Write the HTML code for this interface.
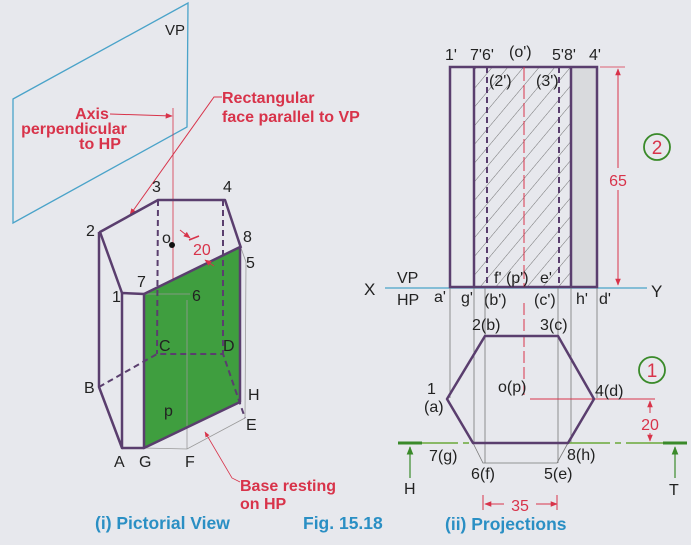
<!DOCTYPE html>
<html><head><meta charset="utf-8"><style>
html,body{margin:0;padding:0;background:#e7e8ed;}
svg{display:block;font-family:"Liberation Sans",sans-serif;}
</style></head><body>
<svg width="691" height="545" viewBox="0 0 691 545" xmlns="http://www.w3.org/2000/svg">
<defs>
<marker id="ar" viewBox="0 0 10 10" refX="9" refY="5" markerWidth="7" markerHeight="7" orient="auto-start-reverse"><path d="M0,1 L10,5 L0,9 z" fill="#d8334a"/></marker>
<marker id="ag" viewBox="0 0 10 10" refX="9" refY="5" markerWidth="7" markerHeight="7" orient="auto-start-reverse"><path d="M0,1 L10,5 L0,9 z" fill="#3a8a2a"/></marker>
<pattern id="hat" width="12" height="12" patternUnits="userSpaceOnUse" patternTransform="rotate(40)"><line x1="0" y1="0" x2="0" y2="12" stroke="#555" stroke-width="0.8"/></pattern>
</defs>
<rect width="691" height="545" fill="#e7e8ed"/>

<!-- VP plane -->
<polygon points="13,99 188,3 187,127 13,223" fill="none" stroke="#4aa3c9" stroke-width="1.3"/>
<text x="165" y="35" font-size="15" fill="#222">VP</text>
<g fill="#d8334a" font-weight="bold" font-size="16" text-anchor="middle">
<text x="92" y="119">Axis</text>
<text x="74" y="134">perpendicular</text>
<text x="100" y="149">to HP</text>
</g>
<line x1="110" y1="114" x2="172" y2="116" stroke="#d8334a" stroke-width="1" marker-end="url(#ar)"/>
<line x1="173" y1="108" x2="173" y2="290" stroke="#d8334a" stroke-width="0.8"/>
<text x="222" y="103" font-size="16" font-weight="bold" fill="#d8334a">Rectangular</text>
<text x="222" y="122" font-size="16" font-weight="bold" fill="#d8334a">face parallel to VP</text>
<polyline points="222,97 214,97 130,215" fill="none" stroke="#d8334a" stroke-width="1" marker-end="url(#ar)"/>

<!-- prism pictorial -->
<polygon points="144,294 240,247 240,402 144,448" fill="#3f9e3f"/>
<g stroke="#999" stroke-width="0.8" fill="none">
<line x1="144" y1="294" x2="190" y2="294"/>
<polyline points="144,448 187,449 245,418 246,262 241,248"/>
<line x1="187" y1="449" x2="187" y2="300"/>
</g>
<g stroke="#5a3e6e" stroke-width="2.5" fill="none" stroke-linejoin="round">
<polyline points="122,293 100,232 158,200 225,200 241,248"/>
<line x1="144" y1="294" x2="240" y2="247"/>
<polyline points="240,247 240,402 144,448 144,294 122,293 122,448 99,387 99,232"/>
<line x1="122" y1="448" x2="144" y2="448"/>
</g>
<g stroke="#5a3e6e" stroke-width="2" fill="none" stroke-dasharray="6,4">
<line x1="158" y1="200" x2="157" y2="354"/>
<line x1="223" y1="200" x2="223" y2="354"/>
<polyline points="99,387 157,354 223,354 245,418"/>
</g>
<circle cx="172" cy="245" r="3" fill="#111"/>
<line x1="180" y1="230" x2="190" y2="238" stroke="#d8334a" stroke-width="1" marker-end="url(#ar)"/>
<line x1="189" y1="240" x2="199" y2="236" stroke="#d8334a" stroke-width="1.5"/>
<line x1="214" y1="266" x2="205" y2="260" stroke="#d8334a" stroke-width="1" marker-end="url(#ar)"/>
<g font-size="16" fill="#222">
<text x="152" y="192">3</text><text x="223" y="192">4</text><text x="86" y="236">2</text>
<text x="162" y="243">o</text><text x="243" y="242">8</text><text x="246" y="268">5</text>
<text x="137" y="287">7</text><text x="112" y="302">1</text><text x="192" y="301">6</text>
<text x="159" y="351">C</text><text x="223" y="351">D</text><text x="84" y="393">B</text>
<text x="248" y="400">H</text><text x="246" y="430">E</text><text x="164" y="416">p</text>
<text x="114" y="467">A</text><text x="139" y="467">G</text><text x="185" y="467">F</text>
</g>
<text x="193" y="255" font-size="16" fill="#d8334a">20</text>
<text x="240" y="491" font-size="16" font-weight="bold" fill="#d8334a">Base resting</text>
<text x="240" y="509" font-size="16" font-weight="bold" fill="#d8334a">on HP</text>
<polyline points="240,482 232,478 205,432" fill="none" stroke="#d8334a" stroke-width="0.8" marker-end="url(#ar)"/>
<text x="95" y="529" font-size="17.5" font-weight="bold" fill="#2a8fc4">(i) Pictorial View</text>
<text x="303" y="529" font-size="17.5" font-weight="bold" fill="#2a8fc4">Fig. 15.18</text>

<!-- front view -->
<rect x="571" y="67" width="26" height="220" fill="#d9dadd"/>
<rect x="474" y="67" width="97" height="220" fill="url(#hat)"/>
<line x1="385" y1="288" x2="647" y2="288" stroke="#4aa3c9" stroke-width="1.3"/>
<g stroke="#5a3e6e" stroke-width="2.5" fill="none">
<rect x="450" y="67" width="147" height="220"/>
<line x1="474" y1="67" x2="474" y2="287"/>
<line x1="571" y1="67" x2="571" y2="287"/>
</g>
<g stroke="#5a3e6e" stroke-width="2" stroke-dasharray="6,4">
<line x1="487" y1="67" x2="487" y2="287"/><line x1="559" y1="67" x2="559" y2="287"/>
</g>
<line x1="524" y1="67" x2="524" y2="287" stroke="#d8334a" stroke-width="1" stroke-dasharray="14,4"/>
<line x1="618" y1="69" x2="618" y2="285" stroke="#d8334a" stroke-width="1" marker-start="url(#ar)" marker-end="url(#ar)"/>
<line x1="600" y1="67" x2="625" y2="67" stroke="#d8334a" stroke-width="0.8"/>
<rect x="606" y="168" width="24" height="22" fill="#e7e8ed"/>
<text x="618" y="186" font-size="16" fill="#d8334a" text-anchor="middle">65</text>
<circle cx="657" cy="147" r="13" fill="none" stroke="#3a8a2a" stroke-width="1.8"/>
<text x="657" y="154" font-size="19" fill="#d8334a" text-anchor="middle">2</text>
<g font-size="16" fill="#222">
<text x="445" y="60">1'</text><text x="470" y="60">7'6'</text><text x="509" y="57">(o')</text>
<text x="552" y="60">5'8'</text><text x="589" y="60">4'</text>
<text x="489" y="86">(2')</text><text x="536" y="86">(3')</text>
<text x="397" y="283">VP</text><text x="397" y="305">HP</text>
<text x="364" y="295" font-size="17">X</text><text x="651" y="297" font-size="17">Y</text>
<text x="494" y="283">f' (p')</text><text x="540" y="283">e'</text>
<text x="434" y="302">a'</text><text x="461" y="303">g'</text><text x="484" y="305">(b')</text>
<text x="534" y="305">(c')</text><text x="576" y="304">h'</text><text x="599" y="304">d'</text>
</g>

<!-- top view -->
<g stroke="#777" stroke-width="0.8" fill="none">
<line x1="450" y1="288" x2="450" y2="398"/><line x1="474" y1="288" x2="474" y2="443"/>
<line x1="485" y1="288" x2="485" y2="463"/><line x1="558" y1="288" x2="558" y2="463"/>
<line x1="571" y1="288" x2="571" y2="443"/><line x1="597" y1="288" x2="597" y2="398"/>
<polyline points="473,443 483,463 557,463 568,443"/>
</g>
<line x1="524" y1="303" x2="524" y2="395" stroke="#d8334a" stroke-width="1" stroke-dasharray="12,4"/>
<line x1="530" y1="399" x2="655" y2="399" stroke="#d8334a" stroke-width="1"/>
<line x1="398" y1="443" x2="687" y2="443" stroke="#6aa83a" stroke-width="1.5" stroke-dasharray="60,5,6,5"/>
<polygon points="447,399 485,336 558,336 594,399 568,443 473,443" fill="none" stroke="#5a3e6e" stroke-width="2.5" stroke-linejoin="round"/>
<line x1="398" y1="443" x2="422" y2="443" stroke="#3a8a2a" stroke-width="3"/>
<line x1="663" y1="443" x2="687" y2="443" stroke="#3a8a2a" stroke-width="3"/>
<line x1="410" y1="478" x2="410" y2="447" stroke="#3a8a2a" stroke-width="1.2" marker-end="url(#ag)"/>
<line x1="675" y1="478" x2="675" y2="447" stroke="#3a8a2a" stroke-width="1.2" marker-end="url(#ag)"/>
<line x1="650" y1="401" x2="650" y2="441" stroke="#d8334a" stroke-width="1" marker-start="url(#ar)" marker-end="url(#ar)"/>
<rect x="637" y="413" width="26" height="20" fill="#e7e8ed"/>
<text x="650" y="430" font-size="16" fill="#d8334a" text-anchor="middle">20</text>
<circle cx="652" cy="370" r="13" fill="none" stroke="#3a8a2a" stroke-width="1.8"/>
<text x="652" y="377" font-size="19" fill="#d8334a" text-anchor="middle">1</text>
<line x1="485" y1="504" x2="557" y2="504" stroke="#d8334a" stroke-width="1" marker-start="url(#ar)" marker-end="url(#ar)"/>
<line x1="483" y1="495" x2="483" y2="510" stroke="#d8334a" stroke-width="1"/>
<line x1="557" y1="495" x2="557" y2="510" stroke="#d8334a" stroke-width="1"/>
<rect x="504" y="494" width="32" height="20" fill="#e7e8ed"/>
<text x="520" y="511" font-size="16" fill="#d8334a" text-anchor="middle">35</text>
<g font-size="16" fill="#222">
<text x="472" y="330">2(b)</text><text x="540" y="330">3(c)</text>
<text x="427" y="394">1</text><text x="424" y="412">(a)</text>
<text x="498" y="392">o(p)</text><text x="595" y="396">4(d)</text>
<text x="429" y="461">7(g)</text><text x="567" y="460">8(h)</text>
<text x="471" y="479">6(f)</text><text x="544" y="479">5(e)</text>
<text x="404" y="494">H</text><text x="669" y="495">T</text>
</g>
<text x="445" y="530" font-size="17.5" font-weight="bold" fill="#2a8fc4">(ii) Projections</text>
</svg>
</body></html>
